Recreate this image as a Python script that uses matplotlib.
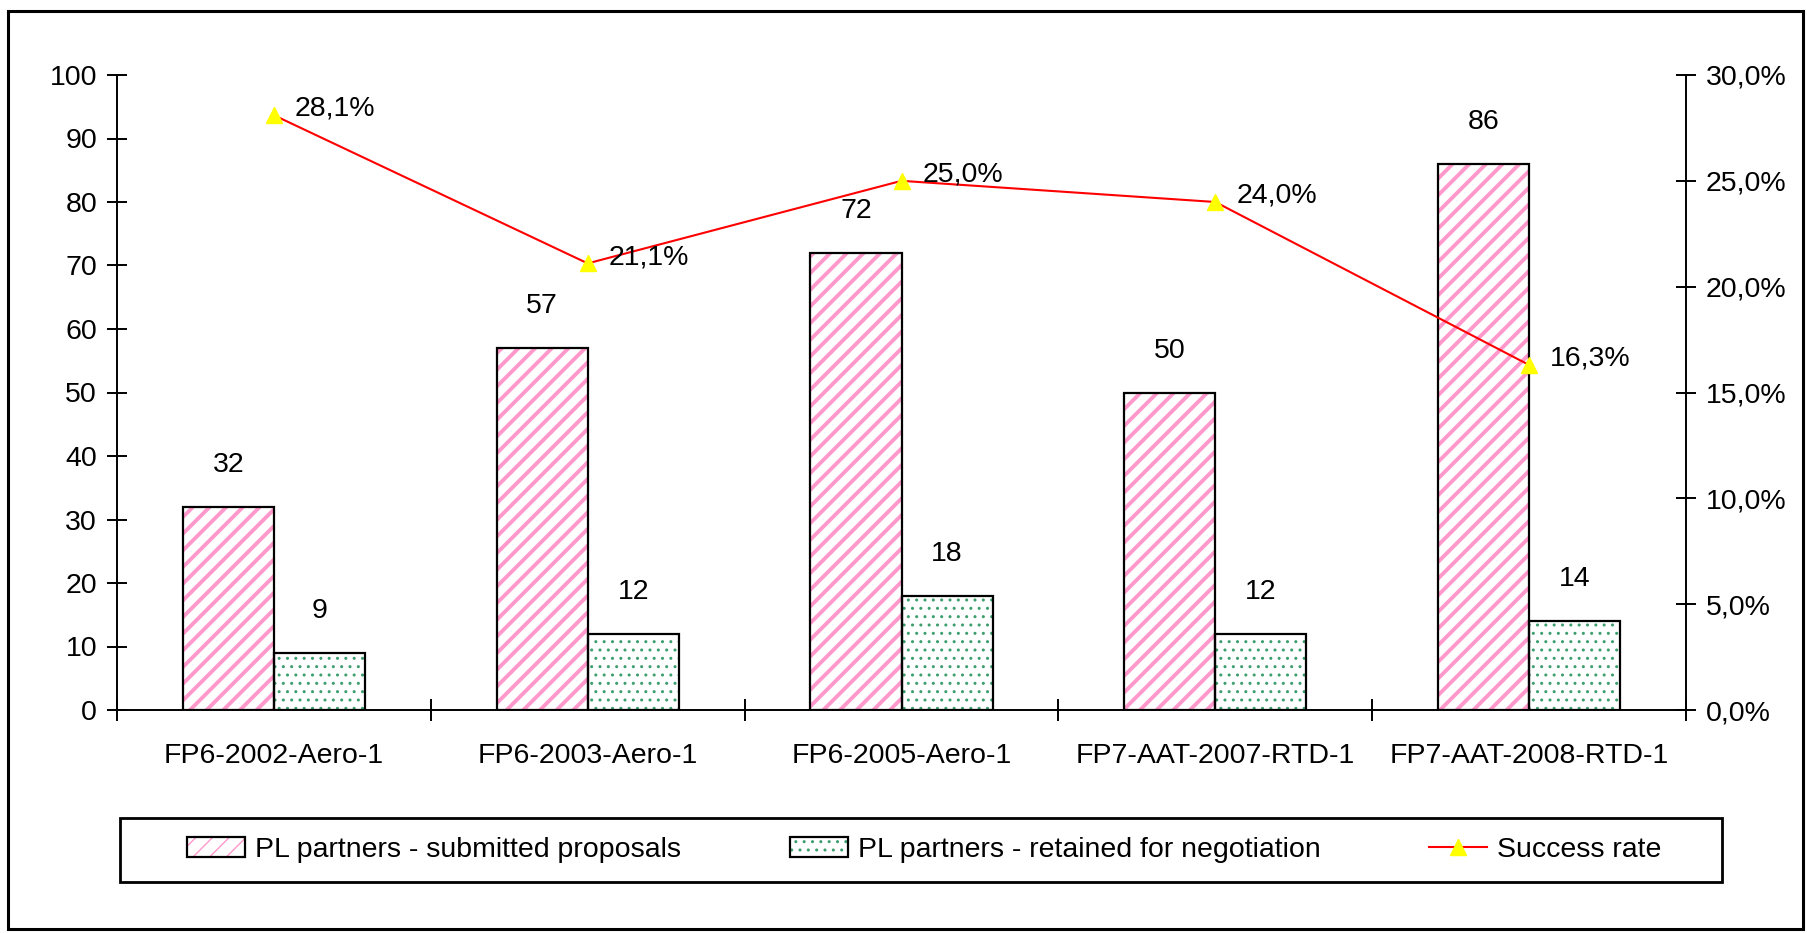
import numpy as np
import matplotlib
matplotlib.use('Agg')
import matplotlib.pyplot as plt
from matplotlib import rcParams
from matplotlib.patches import Rectangle
from matplotlib.legend_handler import HandlerTuple

rcParams['font.family'] = ['Liberation Sans', 'DejaVu Sans']
FONT_SIZE = 20.5
W, H = 1807, 933

CALLS = ['FP6-2002-Aero-1', 'FP6-2003-Aero-1', 'FP6-2005-Aero-1', 'FP7-AAT-2007-RTD-1', 'FP7-AAT-2008-RTD-1']
SUBMITTED = [32, 57, 72, 50, 86]
RETAINED = [9, 12, 18, 12, 14]
SUCCESS_RATE = [28.1, 21.1, 25.0, 24.0, 16.3]

PINK = '#ff99cc'
GREEN = '#3d9e6e'


def pct(v):
    return f'{v:.1f}'.replace('.', ',') + '%'


fig = plt.figure(figsize=(W / 100, H / 100), dpi=100)
ax = fig.add_axes([117 / W, 1 - 710 / H, (1686 - 117) / W, (710 - 75) / H])
ax2 = ax.twinx()

x = np.arange(len(CALLS))
width = 0.29

rcParams['hatch.linewidth'] = 2.8
sub_h = ax.bar(x - width / 2, SUBMITTED, width, color='white', edgecolor=PINK, hatch='//', linewidth=0)
rcParams['hatch.linewidth'] = 1.0
ret_h = ax.bar(x + width / 2, RETAINED, width, color='white', edgecolor=GREEN, hatch='..', linewidth=0)
sub_e = ax.bar(x - width / 2, SUBMITTED, width, fill=False, edgecolor='black', linewidth=1.6)
ret_e = ax.bar(x + width / 2, RETAINED, width, fill=False, edgecolor='black', linewidth=1.6)

for xi, v in zip(x - width / 2, SUBMITTED):
    ax.annotate(str(v), (xi, v), xytext=(0, 30), textcoords='offset points',
                ha='center', va='center', fontsize=FONT_SIZE)
for xi, v in zip(x + width / 2, RETAINED):
    ax.annotate(str(v), (xi, v), xytext=(0, 30), textcoords='offset points',
                ha='center', va='center', fontsize=FONT_SIZE)

line, = ax2.plot(x, SUCCESS_RATE, color='red', linewidth=1.5, marker='^', markersize=12,
                 markerfacecolor='yellow', markeredgecolor='yellow')
for xi, v in zip(x, SUCCESS_RATE):
    ax2.annotate(pct(v), (xi, v), xytext=(15, 4.5), textcoords='offset points',
                 ha='left', va='center', fontsize=FONT_SIZE)

ax.set_xlim(-0.5, len(CALLS) - 0.5)
ax.set_ylim(0, 100)
ax2.set_ylim(0, 30)
ax.set_yticks(range(0, 101, 10))
ax2.set_yticks(range(0, 31, 5))
ax2.set_yticklabels([pct(v) for v in range(0, 31, 5)])

ax.set_xticks(np.arange(-0.5, len(CALLS), 1.0))
ax.set_xticks(x, labels=CALLS, minor=True)
ax.tick_params(axis='x', which='major', direction='inout', length=16, width=1.4, labelbottom=False)
ax.tick_params(axis='x', which='minor', length=0, pad=24, labelsize=FONT_SIZE)
ax.tick_params(axis='y', direction='inout', length=13.7, width=1.4, pad=7.5, labelsize=FONT_SIZE)
ax2.tick_params(axis='y', direction='inout', length=13.7, width=1.4, pad=7.5, labelsize=FONT_SIZE)

for a in (ax, ax2):
    a.spines['top'].set_visible(False)
    a.set_facecolor('none')
ax.spines['right'].set_visible(False)
ax2.spines['left'].set_visible(False)
ax2.spines['bottom'].set_visible(False)
ax.spines['left'].set_linewidth(1.4)
ax.spines['bottom'].set_linewidth(1.4)
ax2.spines['right'].set_linewidth(1.4)

# legend box + entries
fig.patches.append(Rectangle((120 / W, 1 - 882 / H), (1722 - 120) / W, (882 - 818) / H,
                             transform=fig.transFigure, fill=False, edgecolor='black', linewidth=2))
fig.legend([(sub_h, sub_e), (ret_h, ret_e), line],
           ['PL partners - submitted proposals', 'PL partners - retained for negotiation', 'Success rate'],
           handler_map={tuple: HandlerTuple(ndivide=1)},
           loc='center left', bbox_to_anchor=(187 / W, 1 - 850 / H), ncol=3, frameon=False,
           fontsize=FONT_SIZE, handlelength=2.05, handleheight=0.72, handletextpad=0.35,
           columnspacing=3.8, borderpad=0, borderaxespad=0)

# outer chart frame
fig.patches.append(Rectangle((8 / W, 1 - 929 / H), (1803 - 8) / W, (929 - 11) / H,
                             transform=fig.transFigure, fill=False, edgecolor='black', linewidth=2.2))

fig.savefig('out.png', dpi=100, facecolor='white')
